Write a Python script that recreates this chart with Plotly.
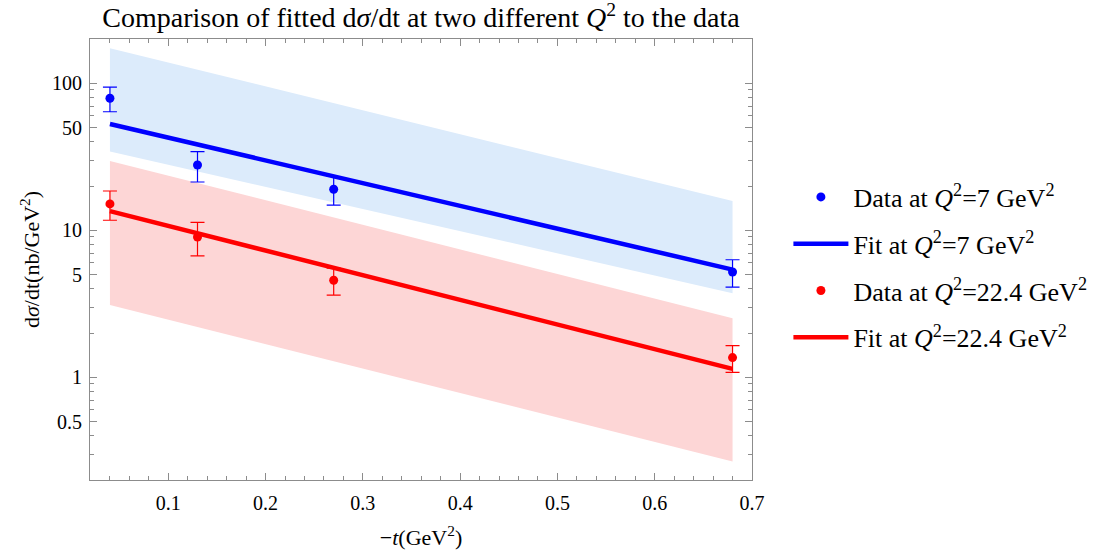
import plotly.graph_objects as go

# -t values (GeV^2) of the measurements
t_data = [0.04, 0.13, 0.27, 0.68]

# d sigma/dt (nb/GeV^2) with uncertainties
sig_q7 = [79.0, 27.8, 19.0, 5.2]
err_q7 = [15.0, 6.5, 4.2, 1.1]
sig_q22 = [15.1, 9.0, 4.57, 1.36]
err_q22 = [3.4, 2.3, 0.95, 0.28]

# fitted curves (exponential in t) evaluated at the ends of the t range
t_fit = [0.04, 0.68]
fit_q7 = [52.8, 5.4]
fit_q22 = [13.5, 1.14]

# uncertainty bands of the fits
band_q7_lo = [34.3, 3.73]
band_q7_hi = [173.0, 15.8]
band_q22_lo = [3.1, 0.267]
band_q22_hi = [29.6, 2.52]

# axis ticks
y_major = [0.5, 1, 5, 10, 50, 100]
y_major_text = ["0.5", "1", "5", "10", "50", "100"]
y_minor = [0.3, 0.4, 0.6, 0.7, 0.8, 0.9, 2, 3, 4, 6, 7, 8, 9,
           20, 30, 40, 60, 70, 80, 90, 200]

BLUE = "#0000ff"
RED = "#ff0000"
BLUE_BAND = "#dcebfb"
RED_BAND = "#fdd6d6"
SERIF = "Liberation Serif, Times New Roman, serif"

fig = go.Figure()

# bands
for lo, hi, col in [(band_q7_lo, band_q7_hi, BLUE_BAND),
                    (band_q22_lo, band_q22_hi, RED_BAND)]:
    fig.add_trace(go.Scatter(x=t_fit, y=lo, mode="lines",
                             line=dict(width=0, color=col),
                             showlegend=False, hoverinfo="skip"))
    fig.add_trace(go.Scatter(x=t_fit, y=hi, mode="lines",
                             line=dict(width=0, color=col),
                             fill="tonexty", fillcolor=col,
                             showlegend=False, hoverinfo="skip"))

q7 = "<i>Q</i><sup>2</sup>=7 GeV<sup>2</sup>"
q22 = "<i>Q</i><sup>2</sup>=22.4 GeV<sup>2</sup>"

fig.add_trace(go.Scatter(
    x=t_data, y=sig_q7, mode="markers",
    marker=dict(color=BLUE, size=9),
    error_y=dict(type="data", array=err_q7, color=BLUE, thickness=1.2, width=7),
    name="Data at " + q7, legendgroup="a", legendrank=1))
fig.add_trace(go.Scatter(
    x=t_fit, y=fit_q7, mode="lines",
    line=dict(color=BLUE, width=4.5),
    name="Fit at " + q7, legendgroup="b", legendrank=2))
fig.add_trace(go.Scatter(
    x=t_data, y=sig_q22, mode="markers",
    marker=dict(color=RED, size=9),
    error_y=dict(type="data", array=err_q22, color=RED, thickness=1.2, width=7),
    name="Data at " + q22, legendgroup="c", legendrank=3))
fig.add_trace(go.Scatter(
    x=t_fit, y=fit_q22, mode="lines",
    line=dict(color=RED, width=4.5),
    name="Fit at " + q22, legendgroup="d", legendrank=4))

FRAME = "#8c8c8c"

fig.update_layout(
    width=1113, height=550,
    margin=dict(l=90, r=361, t=39, b=70),
    paper_bgcolor="white", plot_bgcolor="white",
    font=dict(family=SERIF, size=20, color="black"),
    title=dict(text="Comparison of fitted d<i>σ</i>/dt at two different "
                    "<i>Q</i><sup>2</sup> to the data",
               x=0.5, xref="paper", xanchor="center",
               y=0.968, yref="container", yanchor="middle",
               font=dict(family=SERIF, size=28, color="black")),
    legend=dict(x=1.055, xanchor="left", y=0.695, yanchor="top",
                font=dict(family=SERIF, size=26, color="black"),
                itemwidth=55, tracegroupgap=10, bgcolor="rgba(0,0,0,0)"),
    showlegend=True,
)

fig.update_xaxes(
    range=[0.0195, 0.7], showline=True, linecolor=FRAME, linewidth=1,
    mirror="ticks", ticks="inside", ticklen=7, tickcolor=FRAME,
    tick0=0, dtick=0.1, tickformat=".1f", showgrid=False, zeroline=False,
    ticklabelstandoff=5, automargin=False,
    minor=dict(ticks="inside", ticklen=4, tickcolor=FRAME, dtick=0.02,
               tick0=0, showgrid=False),
    tickfont=dict(family=SERIF, size=20, color="black"),
    title=dict(text="−<i>t</i>(GeV<sup>2</sup>)", standoff=18,
               font=dict(family=SERIF, size=22, color="black")),
)

fig.update_yaxes(
    type="log", range=[-0.69897, 2.30103], showline=True, linecolor=FRAME,
    linewidth=1, mirror="ticks", ticks="inside", ticklen=7, tickcolor=FRAME,
    tickmode="array", tickvals=y_major, ticktext=y_major_text,
    showgrid=False, zeroline=False, ticklabelstandoff=3, automargin=False,
    minor=dict(ticks="inside", ticklen=4, tickcolor=FRAME,
               tickmode="array", tickvals=y_minor, showgrid=False),
    tickfont=dict(family=SERIF, size=20, color="black"),
    title=dict(text="d<i>σ</i>/dt(nb/GeV<sup>2</sup>)", standoff=6,
               font=dict(family=SERIF, size=22, color="black")),
)

fig.write_html("out.html")
